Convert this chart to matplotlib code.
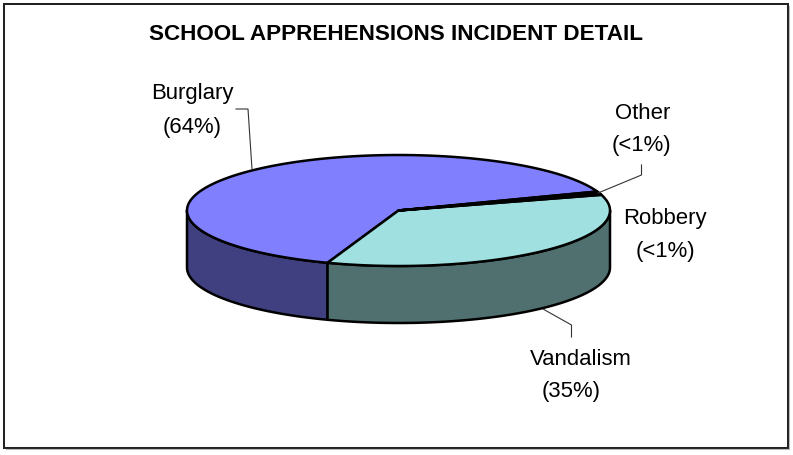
import numpy as np
import matplotlib
matplotlib.use('Agg')
import matplotlib.pyplot as plt
from matplotlib.patches import Polygon, Rectangle

labels = ['Burglary', 'Vandalism', 'Robbery', 'Other']
values = [64, 35, 0.5, 0.5]
pct_text = ['(64%)', '(35%)', '(<1%)', '(<1%)']
top_colors = ['#8080FF', '#A0E0E0', '#FFFFCC', '#CCFFFF']
side_colors = ['#404080', '#507070', '#808066', '#668080']
title = 'SCHOOL APPREHENSIONS INCIDENT DETAIL'

plt.rcParams['font.family'] = ['Liberation Sans', 'DejaVu Sans']

# pie shape in pixels
cx, cy = 398.5, 210.5
rx, ry = 211.5, 55.5
depth = 57
start = 20.0


def rim(a0, a1, drop=0):
    t = np.radians(np.linspace(a0, a1, max(int(abs(a1 - a0)) * 2, 2) + 1))
    return np.column_stack([cx + rx * np.cos(t), cy - ry * np.sin(t) + drop])


fig = plt.figure(figsize=(7.93, 4.55), dpi=100)
ax = fig.add_axes([0, 0, 1, 1])
ax.set_xlim(0, 793)
ax.set_ylim(455, 0)
ax.axis('off')

# grey shadow on the right and bottom of the frame
ax.plot([789, 789], [6, 449], color='#BBBBBB', lw=0.8)
ax.plot([6, 789], [449, 449], color='#BBBBBB', lw=0.8)
ax.add_patch(Rectangle((4, 4), 783.5, 443.5, fc='white', ec='#222222', lw=1.45))

angles = start + np.cumsum([0] + values) / sum(values) * 360

# sides first, only the front half of the rim shows
for i in range(len(values)):
    a0 = max(angles[i], 180)
    a1 = min(angles[i + 1], 360)
    if a1 > a0:
        pts = np.vstack([rim(a0, a1), rim(a1, a0, depth)])
        ax.add_patch(Polygon(pts, fc=side_colors[i], ec='black', lw=1.8, joinstyle='round'))

for i in range(len(values)):
    pts = np.vstack([[cx, cy], rim(angles[i], angles[i + 1])])
    ax.add_patch(Polygon(pts, fc=top_colors[i], ec='black', lw=1.8, joinstyle='round'))

ax.plot([236, 248, 252], [109, 109, 169], color='#333333', lw=0.8)
ax.plot([543, 571.5, 571.5], [309, 325, 337], color='#333333', lw=0.8)
ax.plot([598, 641.5, 641.5], [193, 175, 165], color='#333333', lw=0.8)

ax.text(396, 34.5, title, ha='center', va='center', fontsize=16.2, fontweight='bold')

fs = 15.9
label_pos = [(192.5, 93.5), (581, 359.5), (665, 218.5), (643, 113.5)]
pct_pos = [(192.5, 127.5), (571.5, 391), (665, 251), (641.5, 146)]
for i in range(len(labels)):
    ax.text(label_pos[i][0], label_pos[i][1], labels[i], ha='center', va='center', fontsize=fs)
    ax.text(pct_pos[i][0], pct_pos[i][1], pct_text[i], ha='center', va='center', fontsize=fs)

fig.savefig('out.png', dpi=100)
